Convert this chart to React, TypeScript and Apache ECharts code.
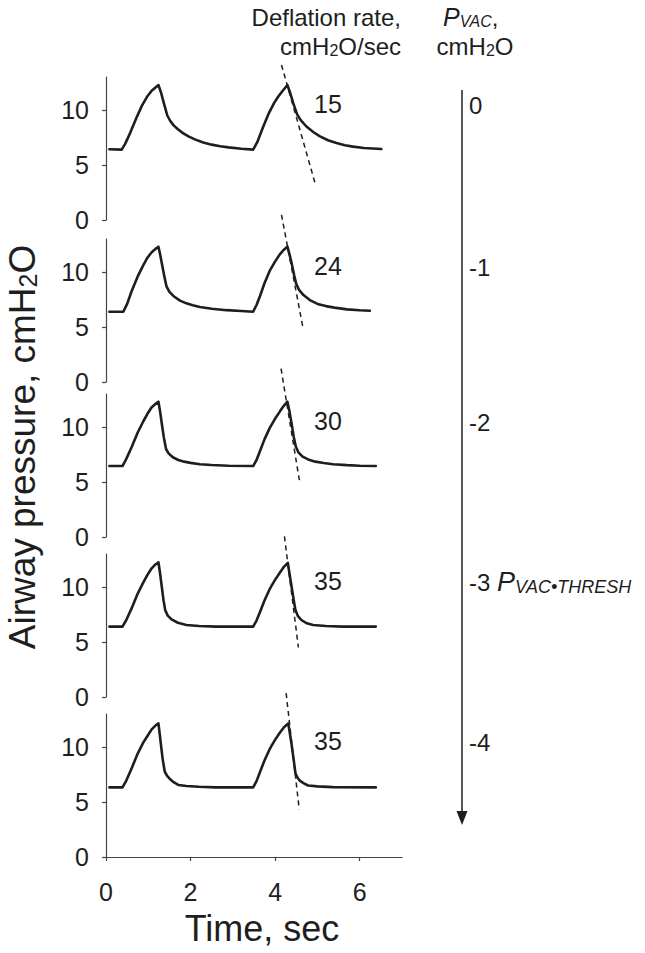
import React, { useEffect, useRef } from 'react';
import * as echarts from 'echarts';

// ---------- data ----------
const pvacLabels = ['0', '-1', '-2', '-3', '-4'];
const deflationRates = ['15', '24', '30', '35', '35'];
const yTickValues = [0, 5, 10];
const xTickValues = [0, 2, 4, 6];

// time (s), airway pressure (cmH2O)
const trace1 = [[0.08,6.43],[0.37,6.4],[0.45,6.9],[0.57,7.9],[0.72,9.3],[0.85,10.4],[0.97,11.2],[1.08,11.75],[1.17,12.05],[1.24,12.27],[1.3,11.6],[1.37,10.6],[1.45,9.5],[1.52,9.0],[1.6,8.6],[1.7,8.25],[1.82,7.9],[1.95,7.6],[2.1,7.33],[2.3,7.05],[2.5,6.85],[2.7,6.7],[2.9,6.6],[3.2,6.48],[3.48,6.4],[3.58,7.1],[3.72,8.5],[3.85,9.7],[3.97,10.6],[4.07,11.2],[4.17,11.7],[4.29,12.27],[4.36,11.5],[4.43,10.6],[4.52,9.6],[4.6,9.1],[4.74,8.5],[4.9,8.0],[5.06,7.6],[5.25,7.25],[5.45,7.0],[5.65,6.8],[5.84,6.67],[6.1,6.55],[6.51,6.45]];
const trace2 = [[0.08,6.39],[0.41,6.39],[0.5,7.1],[0.61,8.3],[0.75,9.6],[0.88,10.6],[0.98,11.3],[1.08,11.8],[1.17,12.1],[1.24,12.3],[1.28,11.6],[1.32,10.8],[1.38,9.6],[1.43,8.7],[1.5,8.2],[1.6,7.8],[1.75,7.4],[1.9,7.15],[2.05,6.97],[2.22,6.82],[2.5,6.66],[2.85,6.53],[3.2,6.45],[3.48,6.39],[3.56,7.0],[3.64,7.8],[3.75,9.0],[3.87,10.1],[3.99,10.9],[4.11,11.6],[4.2,12.0],[4.29,12.3],[4.34,11.6],[4.39,10.8],[4.45,9.7],[4.5,8.9],[4.57,8.35],[4.67,7.9],[4.82,7.45],[5.0,7.1],[5.2,6.9],[5.4,6.76],[5.7,6.6],[6.0,6.52],[6.24,6.48]];
const trace3 = [[0.08,6.45],[0.39,6.45],[0.48,7.1],[0.61,8.2],[0.75,9.5],[0.88,10.5],[0.98,11.2],[1.08,11.8],[1.17,12.1],[1.24,12.3],[1.28,11.4],[1.32,10.3],[1.37,9.0],[1.42,8.0],[1.48,7.6],[1.58,7.25],[1.71,7.0],[1.85,6.85],[2.0,6.74],[2.22,6.62],[2.5,6.54],[2.9,6.48],[3.48,6.45],[3.56,7.0],[3.64,7.8],[3.75,8.9],[3.87,9.9],[3.99,10.7],[4.11,11.4],[4.2,11.9],[4.29,12.3],[4.34,11.4],[4.39,10.3],[4.44,9.1],[4.49,8.2],[4.55,7.7],[4.65,7.3],[4.78,7.05],[4.95,6.85],[5.15,6.72],[5.37,6.62],[5.7,6.53],[6.0,6.48],[6.38,6.45]];
const trace4 = [[0.08,6.4],[0.39,6.4],[0.48,7.0],[0.61,8.1],[0.75,9.4],[0.88,10.4],[0.98,11.1],[1.08,11.7],[1.17,12.05],[1.24,12.25],[1.28,11.2],[1.32,10.0],[1.36,8.8],[1.4,7.9],[1.46,7.4],[1.55,7.05],[1.7,6.75],[1.9,6.55],[2.2,6.45],[2.6,6.4],[3.48,6.4],[3.56,6.95],[3.64,7.7],[3.75,8.8],[3.87,9.8],[3.99,10.6],[4.11,11.3],[4.2,11.8],[4.3,12.2],[4.34,11.2],[4.39,10.0],[4.44,8.8],[4.48,7.9],[4.54,7.35],[4.62,7.0],[4.75,6.7],[4.9,6.55],[5.2,6.45],[5.6,6.4],[6.38,6.4]];
const trace5 = [[0.08,6.33],[0.39,6.33],[0.48,6.95],[0.61,8.1],[0.75,9.4],[0.88,10.4],[0.98,11.0],[1.08,11.6],[1.17,11.95],[1.24,12.15],[1.27,11.2],[1.3,10.2],[1.34,8.9],[1.39,7.75],[1.45,7.35],[1.51,7.1],[1.6,6.8],[1.71,6.55],[1.9,6.45],[2.2,6.38],[2.6,6.33],[3.48,6.33],[3.56,6.9],[3.64,7.7],[3.75,8.8],[3.87,9.8],[3.99,10.6],[4.11,11.3],[4.21,11.8],[4.31,12.15],[4.35,11.2],[4.39,10.2],[4.44,8.8],[4.48,7.6],[4.53,7.2],[4.58,6.95],[4.68,6.7],[4.78,6.5],[5.0,6.42],[5.37,6.35],[6.38,6.33]];
const traces = [trace1, trace2, trace3, trace4, trace5];

// dashed deflation-rate slope lines
const slope1 = [[4.15,14.1],[4.94,3.4]];
const slope2 = [[4.15,15.2],[4.65,5.1]];
const slope3 = [[4.14,15.3],[4.58,5.0]];
const slope4 = [[4.22,14.6],[4.55,4.5]];
const slope5 = [[4.26,14.9],[4.57,4.3]];
const slopes = [slope1, slope2, slope3, slope4, slope5];

// anchor of rate labels (time, pressure)
const rateLabelPos = [5.25, 10.55];

// ---------- layout ----------
const FONT = "'Liberation Sans', Arial, sans-serif";
const INK = '#1e1e1e';
const AXIS = '#444';
const panelBottoms = [220, 382, 537, 697, 857];
const PANEL_H = 143;

export default function App() {
  const ref = useRef<HTMLDivElement>(null);

  useEffect(() => {
    if (!ref.current) return;
    const chart = echarts.init(ref.current, undefined, { renderer: 'svg' });

    const grid = panelBottoms.map((b) => ({ left: 106, top: b - PANEL_H, width: 296, height: PANEL_H }));

    const xAxis = panelBottoms.map((_, i) => {
      const last = i === panelBottoms.length - 1;
      return {
        type: 'value',
        gridIndex: i,
        min: 0,
        max: 7,
        interval: 2,
        show: last,
        axisLine: { show: last, lineStyle: { color: AXIS, width: 1.2 } },
        axisTick: { show: last, length: 4, customValues: xTickValues, lineStyle: { color: AXIS, width: 1.2 } },
        axisLabel: { show: last, customValues: xTickValues, fontSize: 25, fontFamily: FONT, color: INK, margin: 22 },
        splitLine: { show: false },
      };
    });

    const yAxis = panelBottoms.map((_, i) => ({
      type: 'value',
      gridIndex: i,
      min: 0,
      max: 13,
      interval: 5,
      offset: 3,
      axisLine: { show: true, lineStyle: { color: AXIS, width: 1.2 } },
      axisTick: { show: true, length: 4, customValues: yTickValues, lineStyle: { color: AXIS, width: 1.2 } },
      axisLabel: { customValues: yTickValues, fontSize: 25, fontFamily: FONT, color: INK, margin: 14 },
      splitLine: { show: false },
    }));

    const series: any[] = [];
    traces.forEach((tr, i) => {
      series.push({
        type: 'line',
        xAxisIndex: i,
        yAxisIndex: i,
        data: tr,
        symbol: 'none',
        smooth: false,
        lineStyle: { color: INK, width: 2.6, join: 'round', cap: 'round' },
        silent: true,
      });
      series.push({
        type: 'line',
        xAxisIndex: i,
        yAxisIndex: i,
        data: slopes[i],
        symbol: 'none',
        clip: false,
        lineStyle: { color: INK, width: 1.5, type: [5, 4] },
        silent: true,
      });
      series.push({
        type: 'scatter',
        xAxisIndex: i,
        yAxisIndex: i,
        data: [rateLabelPos],
        symbolSize: 1,
        itemStyle: { color: '#ffffff', opacity: 1 },
        label: {
          show: true,
          position: 'inside',
          formatter: deflationRates[i],
          fontSize: 25,
          fontFamily: FONT,
          color: INK,
          opacity: 1,
          textBorderWidth: 0,
        },
        emphasis: { disabled: true },
        silent: true,
      });
    });

    const subRich = (size: number, italic = false) => ({
      fontSize: size,
      fontFamily: FONT,
      fontStyle: italic ? 'italic' : 'normal',
      color: INK,
      lineHeight: 2,
      verticalAlign: 'bottom',
    });
    const mainRich = (size: number, italic = false) => ({
      fontSize: size,
      fontFamily: FONT,
      fontStyle: italic ? 'italic' : 'normal',
      color: INK,
      lineHeight: size,
    });

    const textEl = (x: number, y: number, text: string, rich: any, align: string, extra: any = {}) => ({
      type: 'text',
      x,
      y,
      silent: true,
      ...extra,
      style: {
        text,
        rich,
        align,
        textAlign: align,
        verticalAlign: 'middle',
        textVerticalAlign: 'middle',
        fill: INK,
        fontFamily: FONT,
      },
    });

    const graphic: any[] = [
      // header
      textEl(401, 17, '{n|Deflation rate,}', { n: mainRich(24) }, 'right'),
      textEl(401, 46, '{n|cmH}{s|2}{n|O/sec}', { n: mainRich(24), s: subRich(16) }, 'right'),
      textEl(443, 17, '{p|P}{s|VAC}{n|,}', { p: mainRich(25, true), s: subRich(16, true), n: mainRich(24) }, 'left'),
      textEl(475, 46, '{n|cmH}{s|2}{n|O}', { n: mainRich(24), s: subRich(16) }, 'center'),
      // y-axis title
      textEl(22, 447, '{n|Airway pressure, cmH}{s|2}{n|O}', { n: mainRich(37), s: subRich(25) }, 'center', { rotation: Math.PI / 2 }),
      // x-axis title
      textEl(262, 928, '{n|Time, sec}', { n: mainRich(36) }, 'center'),
      // arrow
      { type: 'line', silent: true, shape: { x1: 462, y1: 90, x2: 462, y2: 813 }, style: { stroke: INK, lineWidth: 1.5 } },
      { type: 'polygon', silent: true, shape: { points: [[456.5, 811], [467.5, 811], [462, 825]] }, style: { fill: INK } },
    ];
    pvacLabels.forEach((lab, i) => {
      const y = panelBottoms[i] - 115;
      if (i === 3) {
        graphic.push(
          textEl(469, y, '{n|' + lab + ' }{p|P}{s|VAC•THRESH}', { n: mainRich(24), p: mainRich(27, true), s: subRich(18, true) }, 'left')
        );
      } else {
        graphic.push(textEl(469, y, '{n|' + lab + '}', { n: mainRich(24) }, 'left'));
      }
    });

    chart.setOption({
      animation: false,
      backgroundColor: '#ffffff',
      grid,
      xAxis,
      yAxis,
      series,
      graphic,
    });

    return () => chart.dispose();
  }, []);

  return (
    <div
      ref={ref}
      style={{ position: 'fixed', left: 0, top: 0, width: 645, height: 953, background: '#fff' }}
    />
  );
}
